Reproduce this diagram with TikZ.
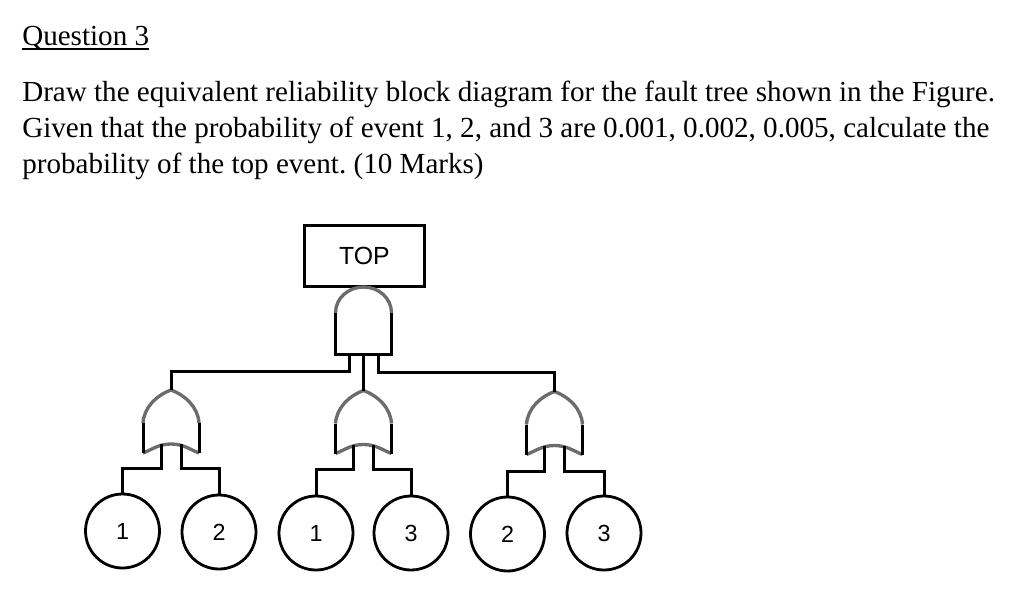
\documentclass[tikz,border=0pt]{standalone}
\usepackage{fontspec}
\setmainfont{Liberation Serif}
\newfontfamily\arialf{Liberation Sans}
\usetikzlibrary{calc}
\frenchspacing
\newcommand{\evlabel}[1]{\raisebox{-1.5pt}{#1}}
\tikzset{
  x=0.75pt,y=-0.75pt,
  txt/.style={anchor=base west,inner sep=0pt,font=\fontsize{21.82pt}{27pt}\selectfont},
  wire/.style={line width=2.25pt,black,line join=miter},
  event/.style={circle,draw=black,line width=2.1pt,minimum size=55.5pt,inner sep=0pt,font=\arialf\fontsize{17.5pt}{20pt}\selectfont},
  topbox/.style={rectangle,draw=black,line width=2.25pt,minimum width=90pt,minimum height=45.5pt,inner sep=0pt,font=\arialf\fontsize{18.6pt}{22pt}\selectfont},
  gategrey/.style={line width=2.5pt,gray!85!black},
  pics/orgate/.style={code={
    \coordinate (-apex) at (0,-31);
    \coordinate (-l) at (-10,23);
    \coordinate (-r) at (10,23);
    \draw[gategrey] (-28,2) .. controls (-27,-14) and (-14,-26) .. (0,-31) .. controls (14,-26) and (27,-14) .. (28,2);
    \draw[gategrey] (-28,32) .. controls (-18,28) and (-12,23) .. (0,23) .. controls (12,23) and (18,28) .. (28,32);
    \draw[wire] (-28,2) -- (-28,32);
    \draw[wire] (28,2) -- (28,32);
  }},
  pics/andgate/.style={code={
    \coordinate (-l) at (-14.5,33);
    \coordinate (-m) at (0,33);
    \coordinate (-r) at (14.5,33);
    \draw[gategrey] (-28,-8) .. controls (-28,-23) and (-15,-34) .. (0,-34) .. controls (15,-34) and (28,-23) .. (28,-8);
    \draw[wire] (-28,-8) -- (-28,33) -- (28,33) -- (28,-8);
  }}
}
\begin{document}
\begin{tikzpicture}
\useasboundingbox (0,0) rectangle (1024,601);
\fill[white] (0,0) rectangle (1024,601);
\node[txt] (q) at (22,45) {Question 3};
\draw[line width=1pt] ($(q.base west)+(0,4)$) coordinate (ua) -- (ua -| q.base east);
\node[txt] (l1) at (22,101) {Draw the equivalent reliability block diagram for the fault tree shown in the Figure.};
\node[txt] (l2) at (22,137) {Given that the probability of event 1, 2, and 3 are 0.001, 0.002, 0.005, calculate the};
\node[txt] (l3) at (22,173) {probability of the top event. (10 Marks)};

\node[topbox] (top) at (364.5,256) {TOP};
\pic (and) at (363.5,321) {andgate};
\pic (g1) at (171,421) {orgate};
\pic (g2) at (363.5,421.5) {orgate};
\pic (g3) at (554.5,422.5) {orgate};
\node[event] (e1) at (122.5,531) {1};
\node[event] (e2) at (219,532) {2};
\node[event] (e3) at (316,533) {\evlabel{1}};
\node[event] (e4) at (411,533) {\evlabel{3}};
\node[event] (e5) at (507.5,534) {\evlabel{2}};
\node[event] (e6) at (604,533) {\evlabel{3}};

\draw[wire] (and-l) -- ++(0,17.5) -| (g1-apex);
\draw[wire] (and-m) -- (g2-apex);
\draw[wire] (and-r) -- ++(0,18) -| (g3-apex);
\draw[wire] (g1-l) -- ++(0,24) -| (e1.north);
\draw[wire] (g1-r) -- ++(0,24) -| (e2.north);
\draw[wire] (g2-l) -- ++(0,24.5) -| (e3.north);
\draw[wire] (g2-r) -- ++(0,24.5) -| (e4.north);
\draw[wire] (g3-l) -- ++(0,25.5) -| (e5.north);
\draw[wire] (g3-r) -- ++(0,25.5) -| (e6.north);
\end{tikzpicture}
\end{document}
